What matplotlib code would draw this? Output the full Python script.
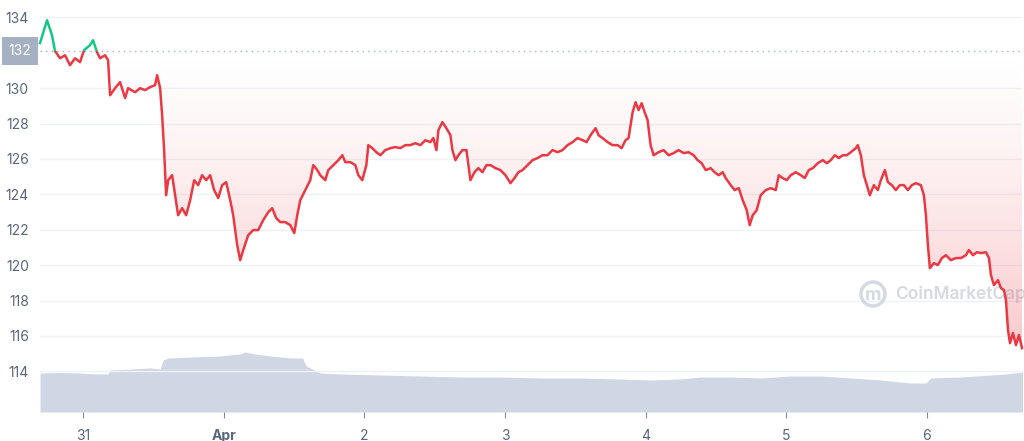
import numpy as np
import pandas as pd
import matplotlib
matplotlib.use("Agg")
import matplotlib.pyplot as plt
from matplotlib.patches import Rectangle, Ellipse

plt.rcParams['font.family'] = ['Inter', 'DejaVu Sans']

# price series: hours after 2022-03-30 16:40, price in USD
start = pd.Timestamp("2022-03-30 16:40")
price_hours = [
    0, 1.2, 2.05, 2.56, 3.42, 4.27, 5.12, 5.98, 6.83, 7.52, 8.54, 9.05, 9.74, 10.25,
    11.10, 11.62, 11.96, 12.81, 13.67, 14.52, 15.03, 16.23, 17.08, 17.94, 18.79, 19.64,
    19.99, 20.50, 20.84, 21.18, 21.52, 21.87, 22.55, 23.06, 23.57, 24.26, 24.94, 25.62,
    26.31, 26.99, 27.67, 28.36, 29.04, 29.72, 30.41, 31.09, 31.77, 32.46, 32.97, 33.65,
    34.16, 34.68, 35.53, 36.39, 37.24, 38.09, 38.95, 39.63, 40.31, 41.00, 41.85, 42.71,
    43.39, 43.90, 44.41, 45.27, 46.12, 46.63, 47.32, 47.83, 48.68, 49.20, 50.05, 50.91,
    51.59, 52.10, 52.96, 53.81, 54.32, 55.00, 55.69, 56.03, 56.71, 57.40, 58.08, 58.93,
    59.79, 60.64, 61.50, 62.35, 63.20, 64.06, 64.91, 65.77, 66.62, 67.13, 67.65, 67.99,
    68.67, 69.35, 70.04, 70.38, 70.89, 71.40, 72.09, 72.77, 73.45, 74.14, 74.82, 75.50,
    76.19, 76.87, 77.72, 78.58, 79.43, 80.29, 80.97, 81.65, 82.34, 83.19, 84.05, 84.90,
    85.75, 86.61, 87.46, 88.32, 89.17, 90.02, 90.88, 91.73, 92.59, 93.27, 93.95, 94.81,
    95.32, 96.00, 96.86, 97.71, 98.56, 99.25, 99.93, 100.44, 101.13, 101.64, 102.15,
    102.67, 103.18, 103.69, 104.20, 104.71, 105.57, 106.42, 107.28, 108.13, 108.98,
    109.84, 110.69, 111.55, 112.23, 112.91, 113.60, 114.45, 115.13, 115.82, 116.50,
    117.01, 117.87, 118.55, 119.24, 119.92, 120.60, 121.11, 121.63, 122.31, 122.99,
    123.85, 124.70, 125.56, 126.07, 126.75, 127.43, 128.12, 128.97, 129.83, 130.51,
    131.19, 131.88, 132.73, 133.58, 134.27, 134.95, 135.63, 136.32, 137.00, 137.68,
    138.37, 139.22, 139.56, 140.08, 140.59, 141.10, 141.61, 142.30, 142.98, 143.49,
    144.18, 144.69, 145.37, 146.05, 146.74, 147.42, 148.10, 148.79, 149.47, 150.32,
    150.84, 151.18, 151.52, 151.86, 152.55, 153.23, 153.91, 154.60, 155.45, 156.30,
    157.16, 158.01, 158.52, 159.21, 159.89, 160.57, 161.43, 161.94, 162.28, 162.79,
    163.48, 163.99, 164.50, 164.84, 165.19, 165.53, 166.04, 166.55, 167.06, 167.58,
]
prices = [
    132.55, 133.84, 132.99, 132.10, 131.69, 131.86, 131.30, 131.69, 131.47, 132.15, 132.43, 132.71, 132.03, 131.69,
    131.86, 131.58, 129.60, 130.00, 130.34, 129.44, 130.00, 129.77, 130.00, 129.89, 130.06, 130.17,
    130.73, 130.00, 128.47, 126.50, 123.95, 124.80, 125.08, 123.95, 122.82, 123.22, 122.82, 123.67,
    124.80, 124.52, 125.08, 124.80, 125.08, 124.24, 123.79, 124.52, 124.69, 123.67, 122.82, 121.13,
    120.28, 120.85, 121.69, 121.98, 121.98, 122.54, 122.99, 123.22, 122.66, 122.43, 122.43, 122.26,
    121.81, 122.82, 123.67, 124.24, 124.80, 125.65, 125.37, 125.08, 124.80, 125.37, 125.65, 125.93,
    126.21, 125.82, 125.82, 125.65, 125.08, 124.80, 125.65, 126.78, 126.61, 126.38, 126.21, 126.50,
    126.61, 126.67, 126.61, 126.78, 126.78, 126.89, 126.78, 127.06, 126.95, 127.18, 126.50, 127.63,
    128.08, 127.74, 127.34, 126.50, 125.93, 126.21, 126.50, 126.50, 124.80, 125.25, 125.48, 125.25,
    125.65, 125.65, 125.48, 125.37, 125.08, 124.63, 124.92, 125.25, 125.37, 125.65, 125.93, 126.05,
    126.21, 126.21, 126.50, 126.38, 126.50, 126.78, 126.95, 127.18, 127.06, 126.95, 127.34, 127.74,
    127.34, 127.18, 126.95, 126.78, 126.78, 126.61, 127.06, 127.18, 128.64, 129.21, 128.76,
    129.15, 128.64, 128.19, 126.78, 126.21, 126.38, 126.50, 126.21, 126.33, 126.50,
    126.33, 126.38, 126.21, 125.93, 125.76, 125.37, 125.48, 125.25, 125.08, 125.25,
    124.92, 124.52, 124.24, 124.35, 123.67, 123.11, 122.26, 122.82, 123.11, 123.95,
    124.24, 124.35, 124.24, 125.08, 124.92, 124.80, 125.08, 125.25, 125.08, 124.92,
    125.37, 125.48, 125.76, 125.93, 125.76, 125.93, 126.21, 126.05, 126.21, 126.21,
    126.38, 126.61, 126.78, 126.21, 125.08, 124.52, 123.95, 124.52, 124.24, 124.80,
    125.37, 124.69, 124.52, 124.24, 124.52, 124.52, 124.24, 124.52, 124.63, 124.52,
    123.95, 122.82, 121.13, 119.83, 120.11, 120.00, 120.40, 120.56, 120.28, 120.40,
    120.40, 120.56, 120.85, 120.56, 120.73, 120.68, 120.73, 120.40, 119.44, 118.87,
    119.15, 118.70, 118.59, 118.02, 116.33, 115.59, 116.16, 115.48, 116.05, 115.31,
]
base_price = 132.1  # opening price, dotted reference line

# 24h volume (USD millions), same hour offsets convention
vol_hours = [0, 3.4, 6.8, 9.4, 11.6, 12.0, 15.4, 18.8, 20.5, 21.0, 21.9, 25.6, 30.7,
             34.2, 35.0, 36.7, 39.3, 42.7, 44.8, 45.4, 46.5, 47.8, 51.2, 58.1, 64.9,
             71.7, 78.6, 85.4, 92.2, 99.1, 104.2, 109.3, 112.7, 117.9, 123.0, 128.1,
             133.3, 138.4, 143.5, 148.6, 151.2, 152.0, 157.2, 162.3, 164.8, 167.7]
volumes = [390, 395, 390, 380, 380, 420, 430, 440, 430, 520, 540, 550, 560,
           580, 600, 580, 560, 540, 540, 460, 430, 390, 380, 370, 360,
           350, 350, 340, 340, 330, 320, 330, 350, 350, 340, 360,
           360, 340, 320, 290, 290, 340, 350, 370, 380, 400]

tick_days = ["2022-03-31", "2022-04-01", "2022-04-02", "2022-04-03",
             "2022-04-04", "2022-04-05", "2022-04-06"]
tick_labels = ["31", "Apr", "2", "3", "4", "5", "6"]
y_ticks = [114, 116, 118, 120, 122, 124, 126, 128, 130, 134]

RED = "#ea3943"
GREEN = "#16c784"
TEXT = "#58667e"
MARK = "#d5dae2"

t = start + pd.to_timedelta(price_hours, unit="h")
tv = start + pd.to_timedelta(vol_hours, unit="h")
p = np.array(prices)

fig = plt.figure(figsize=(10.24, 4.41), dpi=100)
ax = fig.add_axes([40 / 1024, 29 / 441, 982 / 1024, 407 / 441])
ax.set_ylim(111.7, 134.7)
ax.set_xlim(t[0], t[-1])

# volume area on its own scale
axv = ax.twinx()
axv.fill_between(tv, volumes, 0, color="#cfd6e4", lw=0, zorder=1)
axv.set_ylim(0, 4070)
axv.set_yticks([])
for s in axv.spines.values():
    s.set_visible(False)
ax.set_zorder(axv.get_zorder() + 1)
ax.patch.set_visible(False)

# grid
for v in y_ticks:
    ax.axhline(v, color="#eff2f5", lw=1, zorder=0)
ax.axhline(base_price, color="#a6b0c3", lw=1, ls=(0, (1, 3)), zorder=1)

# watermark, sits under the fill and line
wx, wy = 873 / 1024, 1 - 294 / 441
ax.add_artist(Ellipse((wx, wy), 24 / 1024, 24 / 441, transform=fig.transFigure,
                      fill=False, ec=MARK, lw=2.5, zorder=0.5))
ax.text(wx, wy - 0.003, "m", transform=fig.transFigure, ha="center", va="center",
        fontsize=13, color=MARK, fontweight="bold", zorder=0.5)
ax.text(895 / 1024, wy, "CoinMarketCap", transform=fig.transFigure, ha="left", va="center",
        fontsize=12.5, color=MARK, fontweight="semibold", zorder=0.5, clip_on=False)

# gradient fill between the line and the base price
poly = ax.fill_between(t, p, base_price, color="none", lw=0)
xnum = matplotlib.dates.date2num(t)
grad = np.zeros((256, 2, 4))
grad[..., 0] = 0.92
grad[..., 1] = 0.22
grad[..., 2] = 0.26
alpha = np.linspace(0.38, 0.0, 256) ** 1.3
grad[..., 3] = alpha[:, None]
img = ax.imshow(grad, extent=[xnum[0], xnum[-1], 114.5, base_price], origin="lower",
                aspect="auto", zorder=1)
img.set_clip_path(poly.get_paths()[0], transform=ax.transData)

# line, red below base, green above
ln_r, = ax.plot(t, p, color=RED, lw=1.8, zorder=3)
ln_g, = ax.plot(t, p, color=GREEN, lw=1.8, zorder=3)
ln_r.set_clip_path(Rectangle((xnum[0] - 1, 100), 10, base_price - 100, transform=ax.transData))
ln_g.set_clip_path(Rectangle((xnum[0] - 1, base_price), 10, 40, transform=ax.transData))

# axes styling
for s in ax.spines.values():
    s.set_visible(False)
ax.set_yticks(y_ticks)
ax.set_yticklabels([str(v) for v in y_ticks])
ax.tick_params(axis="y", length=0, labelsize=10, labelcolor=TEXT, pad=8)
ax.set_xticks(pd.to_datetime(tick_days))
ax.set_xticklabels(tick_labels)
ax.tick_params(axis="x", length=4, color="#808a9d", labelsize=10, labelcolor=TEXT, pad=8)
for lbl in ax.get_xticklabels():
    if lbl.get_text() == "Apr":
        lbl.set_fontweight("bold")

# base price label box
ax.text(-0.0205, base_price, "132", transform=ax.get_yaxis_transform(), ha="center", va="center",
        fontsize=10, color="white",
        bbox=dict(boxstyle="square,pad=0.5", fc="#a6b0c3", ec="none"))

fig.savefig("out.png", dpi=100)
plt.close(fig)
